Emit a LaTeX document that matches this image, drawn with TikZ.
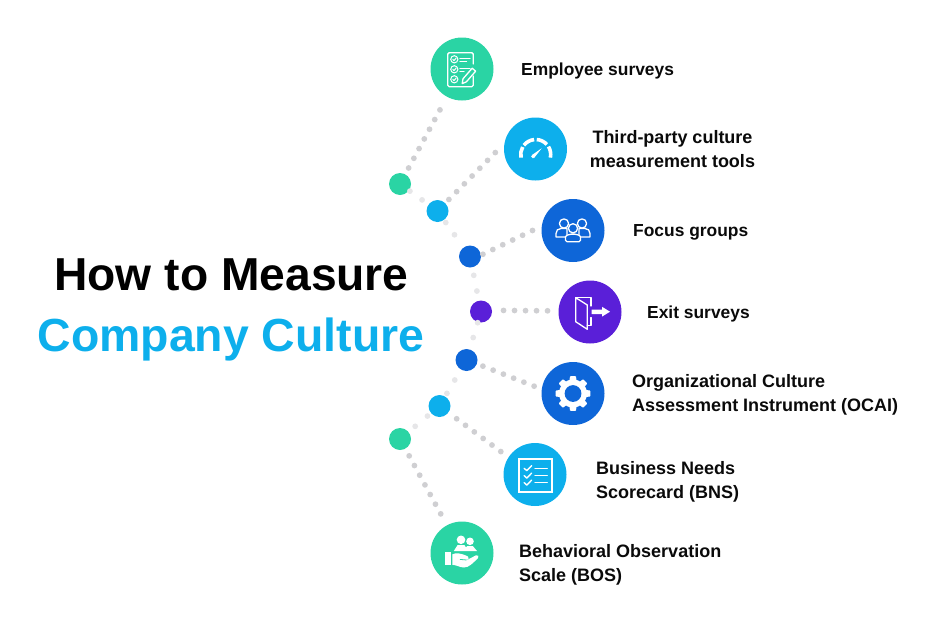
\documentclass[tikz,border=0pt]{standalone}
\usepackage{fontspec}
\setmainfont{Liberation Sans}
\definecolor{cgreen}{HTML}{2AD4A4}
\definecolor{cblue}{HTML}{0DAFEC}
\definecolor{cdark}{HTML}{0E66D8}
\definecolor{cpurple}{HTML}{5A1FD8}
\definecolor{cdot}{HTML}{CFCFD2}
\definecolor{cfaint}{HTML}{E6E6E8}
\definecolor{cink}{HTML}{0A0A0A}
\begin{document}
\begin{tikzpicture}[x=1pt,y=-1pt,
	big node/.style = {circle, inner sep = 0pt, minimum size = 63pt},
	small node/.style = {circle, inner sep = 0pt, minimum size = 22pt},
	label node/.style = {inner sep = 0pt, font=\fontsize{17.4}{24}\selectfont\bfseries, text=cink},
	long label/.style = {label node, font=\fontsize{18}{24}\selectfont\bfseries},
	dots/.style = {draw=cdot, line width=5.8pt, line cap=round, dash pattern=on 0pt off 11pt},
	faint dots/.style = {draw=cfaint, line width=5.8pt, line cap=round, dash pattern=on 0pt off #1},
	icon/.style = {draw=white, line width=1.3pt, line cap=round, line join=round}]
	\useasboundingbox (0,0) rectangle (936,624);

	\node[font=\fontsize{46.2}{50}\selectfont\bfseries, text=black, inner sep=0pt, anchor=base] (title) at (231.5,290) {How to Measure};
	\node[font=\fontsize{46.4}{50}\selectfont\bfseries, text=cblue, inner sep=0pt, anchor=base] (subtitle) at (231,351.5) {Company Culture};

	\node[big node,fill=cgreen] (employee) at (462,69) {};
	\node[big node,fill=cblue] (gauge) at (535.5,149) {};
	\node[big node,fill=cdark] (focus) at (573,230.5) {};
	\node[big node,fill=cpurple] (exit) at (590,312) {};
	\node[big node,fill=cdark] (ocai) at (573,393.5) {};
	\node[big node,fill=cblue] (bns) at (535,474.5) {};
	\node[big node,fill=cgreen] (bos) at (462,553) {};

	\node[small node,fill=cgreen] (green1) at (400,184) {};
	\node[small node,fill=cblue] (blue1) at (437.5,211) {};
	\node[small node,fill=cdark] (dark1) at (470,256.5) {};
	\node[small node,fill=cpurple] (purple) at (481,311.5) {};
	\node[small node,fill=cdark] (dark2) at (466.5,360) {};
	\node[small node,fill=cblue] (blue2) at (439.5,406) {};
	\node[small node,fill=cgreen] (green2) at (400,439) {};

	% spine
	\draw[faint dots=15pt,shorten <=1pt,shorten >=5pt] (green1) -- (blue1);
	\draw[faint dots=15pt,shorten <=3pt,shorten >=5pt] (blue1) -- (dark1);
	\draw[faint dots=16pt,shorten <=8pt,shorten >=5pt] (dark1) -- (purple);
	\draw[faint dots=15.5pt,shorten <=0.5pt,shorten >=8pt] (purple) -- (dark2);
	\draw[faint dots=15.5pt,shorten <=12pt,shorten >=1pt] (dark2) -- (blue2);
	\draw[faint dots=16pt,shorten <=4.5pt,shorten >=5pt] (blue2) -- (green2);

	% branches
	\draw[dots,shorten <=7pt,shorten >=14.5pt] (green1) -- (employee);
	\draw[dots,shorten <=5pt,shorten >=12.6pt] (blue1) -- (gauge.170);
	\draw[dots,shorten <=2pt,shorten >=10pt] (dark1.7) -- (focus.172);
	\draw[dots,shorten <=11.4pt,shorten >=10.7pt] (purple.6) -- (exit.178);
	\draw[dots,shorten <=6.3pt,shorten >=7.9pt] (dark2.-20) -- (ocai.172);
	\draw[dots,shorten <=10.2pt,shorten >=9pt] (blue2) -- (bns.147);
	\draw[dots,shorten <=8pt,shorten >=12.5pt] (green2) -- (bos);

	\node[label node,anchor=west] (employee text) at (521,71) {Employee surveys};
	\node[long label,align=center] (gauge text) at (672.5,149.5) {Third-party culture\\measurement tools};
	\node[label node,anchor=west] (focus text) at (633,232.5) {Focus groups};
	\node[label node,anchor=west] (exit text) at (647,314) {Exit surveys};
	\node[long label,anchor=west,align=left] (ocai text) at (632,394.5) {Organizational Culture\\Assessment Instrument (OCAI)};
	\node[long label,anchor=west,align=left] (bns text) at (596,481.5) {Business Needs\\Scorecard (BNS)};
	\node[long label,anchor=west,align=left] (bos text) at (519,564.5) {Behavioral Observation\\Scale (BOS)};

	% survey icon
	\draw[icon,rounded corners=1.5pt] (473.3,64) -- (473.3,52.7) -- (447.7,52.7) -- (447.7,86.7) -- (473.3,86.7) -- (473.3,76);
	\foreach \y in {59.3,69.3,79.3} {
		\draw[icon,line width=1pt] (454.3,\y) circle (3.6pt);
		\draw[icon,line width=1pt] (452.8,\y) -- (454,\y+1.3) -- (456.2,\y-1.4);
	}
	\draw[icon] (460,58.3) -- (470,58.3) (460,61.4) -- (466.5,61.4) (460,68.3) -- (470,68.3) (460,71.4) -- (464,71.4);
	\draw[icon,fill=cgreen] (462.2,83.6) -- (463,78.8) -- (472.2,68.2) -- (475.6,71.2) -- (466.4,81.8) -- cycle;

	% gauge icon
	\begin{scope}[shift={(535.7,154.5)}]
		\foreach \a/\b in {192/150,142/96,86/42,32/-12}
			\draw[draw=white,line width=3.6pt] (\a:15pt) arc[start angle=\a,end angle=\b,radius=15pt];
		\fill[white] (-4pt,-0.7pt) -- (-1.5pt,-3.3pt) -- (6pt,6.2pt) -- cycle;
		\fill[white] (-2.75pt,-2pt) circle (1.9pt);
	\end{scope}

	% people icon
	\begin{scope}[shift={(focus.center)}]
		\draw[icon,fill=cdark] (-17,6.5) -- (-17,3) .. controls (-17,0) and (-15,-2) .. (-12,-2) -- (-6,-2) -- (-6,6.5) -- cycle;
		\draw[icon,fill=cdark] (17,6.5) -- (17,3) .. controls (17,0) and (15,-2) .. (12,-2) -- (6,-2) -- (6,6.5) -- cycle;
		\draw[icon,fill=cdark] (-9,-7) circle (4.6pt);
		\draw[icon,fill=cdark] (9,-7) circle (4.6pt);
		\draw[icon,fill=cdark,rounded corners=1.5pt] (-7.5,11.2) -- (-7.5,8) .. controls (-7.5,5) and (-3.5,3.6) .. (0,3.6) .. controls (3.5,3.6) and (7.5,5) .. (7.5,8) -- (7.5,11.2) -- cycle;
		\draw[icon,fill=cdark] (0,-2.2) circle (4.6pt);
	\end{scope}

	% door icon
	\draw[icon] (575.7,297.7) -- (591,297.7) -- (591,306) (591,317.5) -- (591,325.5) -- (587.3,325.5);
	\draw[icon] (575.7,297.7) -- (587.3,305) -- (587.3,329.3) -- (575.7,321.7) -- cycle;
	\fill[white] (591.5,309.5) -- (602,309.5) -- (602,306.8) -- (610,311.7) -- (602,316.6) -- (602,314) -- (591.5,314) -- cycle;

	% gear icon
	\begin{scope}[shift={(ocai.center)}]
		\fill[white] (0,0) circle (14pt);
		\foreach \a in {0,45,...,315}
			\fill[white,rotate=\a,rounded corners=.6pt] (12pt,-3.6pt) -- (17.3pt,-3pt) -- (17.3pt,3pt) -- (12pt,3.6pt) -- cycle;
		\fill[cdark] (0,0) circle (8.4pt);
	\end{scope}

	% scorecard icon
	\draw[draw=white,line width=1.9pt] (518.7,459) rectangle (552.3,492.3);
	\foreach \y in {468.3,475.7,482.7} {
		\draw[icon,line width=1.4pt] (524.2,\y) -- (526.8,\y+2.4) -- (531.6,\y-2.6);
		\draw[icon] (535,\y) -- (547.3,\y);
	}

	% hand icon
	\fill[white] (461,539.8) circle (4.3pt) (470,541.3) circle (3.8pt);
	\fill[white] (453.8,551) -- (457.5,545.2) -- (464.5,545.2) -- (466,547.5) -- (467,546.2) -- (473,546.2) -- (477,551) -- cycle;
	\fill[white] (445,552.3) rectangle (451,565);
	\fill[white] (452.3,554.3) .. controls (456,552.8) and (460,552.6) .. (468,556.5) .. controls (469.5,557.5) and (468.5,559.8) .. (466.5,559.8) -- (466.5,560.3) -- (476,555.3) .. controls (478,554.5) and (479.5,556.5) .. (478,558) .. controls (473,563) and (469,567.5) .. (464,567.5) .. controls (460,567.5) and (456,564.8) .. (452.3,564.8) -- cycle;
	\draw[draw=cgreen,line width=.8pt] (460,559.4) -- (466.5,560);
\end{tikzpicture}
\end{document}
